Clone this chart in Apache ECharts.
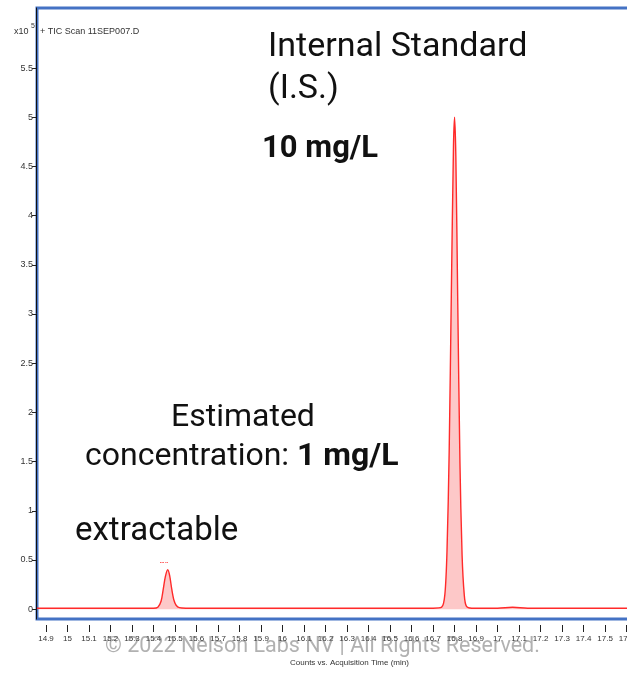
<!DOCTYPE html>
<html>
<head>
<meta charset="utf-8">
<script src="https://cdn.jsdelivr.net/npm/echarts@6/dist/echarts.min.js"></script>
<style>
  body { margin: 0; padding: 0; background: #fff; }
  #chart { width: 627px; height: 674px; }
</style>
</head>
<body>
<div id="chart"></div>
<script>
// acquisition time (min) and counts (x10^5)
const times = [
  14.858, 15.0, 15.2, 15.35, 15.40, 15.42, 15.435, 15.445, 15.455, 15.466,
  15.475, 15.485, 15.495, 15.505, 15.52, 15.55, 15.8, 16.2, 16.6, 16.70,
  16.74, 16.755, 16.765, 16.775, 16.785, 16.795, 16.800, 16.806, 16.815, 16.825,
  16.835, 16.845, 16.855, 16.88, 17.0, 17.07, 17.14, 17.616
];
const counts = [
  0.01, 0.01, 0.01, 0.01, 0.01, 0.02, 0.08, 0.20, 0.33, 0.40,
  0.34, 0.20, 0.09, 0.04, 0.015, 0.01, 0.01, 0.01, 0.01, 0.01,
  0.02, 0.15, 0.6, 1.6, 3.2, 4.7, 5.0, 4.6, 3.1, 1.5,
  0.55, 0.15, 0.03, 0.01, 0.01, 0.02, 0.01, 0.01
];
const xTicks = [14.9, 15, 15.1, 15.2, 15.3, 15.4, 15.5, 15.6, 15.7, 15.8, 15.9, 16,
  16.1, 16.2, 16.3, 16.4, 16.5, 16.6, 16.7, 16.8, 16.9, 17, 17.1, 17.2, 17.3, 17.4, 17.5, 17.6];
const yTicks = [0, 0.5, 1, 1.5, 2, 2.5, 3, 3.5, 4, 4.5, 5, 5.5];

const trace = times.map((t, i) => [t, counts[i]]);
const narrow = "'Liberation Sans Narrow', 'Liberation Sans', sans-serif";

const chart = echarts.init(document.getElementById('chart'));
chart.setOption({
  animation: false,
  grid: {
    left: 37, top: 8, right: -3, bottom: 55,
    outerBoundsMode: 'none',
    show: true, borderColor: '#4472c4', borderWidth: 3, backgroundColor: '#fff'
  },
  xAxis: {
    type: 'value', min: 14.858, max: 17.616, offset: 6,
    axisLine: { show: false, onZero: false },
    axisTick: { show: true, length: 7, lineStyle: { color: '#222' }, customValues: xTicks },
    axisLabel: { customValues: xTicks, fontFamily: narrow, fontSize: 8, color: '#333', margin: 10 },
    splitLine: { show: false }
  },
  yAxis: {
    type: 'value', min: -0.1, max: 6.11, offset: 1,
    axisLine: { show: true, onZero: false, lineStyle: { color: '#111', width: 1 } },
    axisTick: { show: true, length: 4, lineStyle: { color: '#222' }, customValues: yTicks },
    axisLabel: { customValues: yTicks, fontFamily: narrow, fontSize: 9, color: '#333', margin: 3 },
    splitLine: { show: false }
  },
  series: [{
    type: 'line',
    data: trace,
    smooth: 0.3,
    showSymbol: false,
    lineStyle: { color: '#ff2a2a', width: 1.4 },
    areaStyle: { color: 'rgba(248,100,100,0.5)', origin: 0 },
    z: 3
  }],
  graphic: [
    { type: 'text', left: 14, top: 27, style: { text: 'x10', font: '9px ' + narrow, fill: '#333' } },
    { type: 'text', left: 31, top: 23, style: { text: '5', font: '7px ' + narrow, fill: '#333' } },
    { type: 'text', left: 40, top: 27, style: { text: '+ TIC Scan 11SEP007.D', font: '9px ' + narrow, fill: '#333' } },
    { type: 'text', left: 268, top: 30, style: { text: 'Internal Standard', font: '34px Roboto', fill: '#111' } },
    { type: 'text', left: 268, top: 72, style: { text: '(I.S.)', font: '34px Roboto', fill: '#111' } },
    { type: 'text', left: 262, top: 134, style: { text: '10 mg/L', font: 'bold 31px Roboto', fill: '#111' } },
    { type: 'text', left: 171, top: 402, style: { text: 'Estimated', font: '32px Roboto', fill: '#111' } },
    {
      type: 'text', left: 85, top: 441,
      style: {
        text: '{n|concentration: }{b|1 mg/L}',
        rich: {
          n: { font: '32px Roboto', fill: '#111' },
          b: { font: 'bold 32px Roboto', fill: '#111' }
        }
      }
    },
    { type: 'text', left: 75, top: 515, style: { text: 'extractable', font: '33px Roboto', fill: '#111' } },
    { type: 'text', left: 160, top: 561, style: { text: '▪▪▪ ▪▪', font: '4px sans-serif', fill: '#ff5050' } },
    { type: 'text', left: 290, top: 659, style: { text: 'Counts vs. Acquisition Time (min)', font: '8px ' + narrow, fill: '#333' } },
    { type: 'text', left: 105, top: 636, z: 100, style: { text: '© 2022 Nelson Labs NV | All Rights Reserved.', font: '21.5px Roboto', fill: 'rgba(100,100,100,0.5)' } }
  ]
});
</script>
</body>
</html>
